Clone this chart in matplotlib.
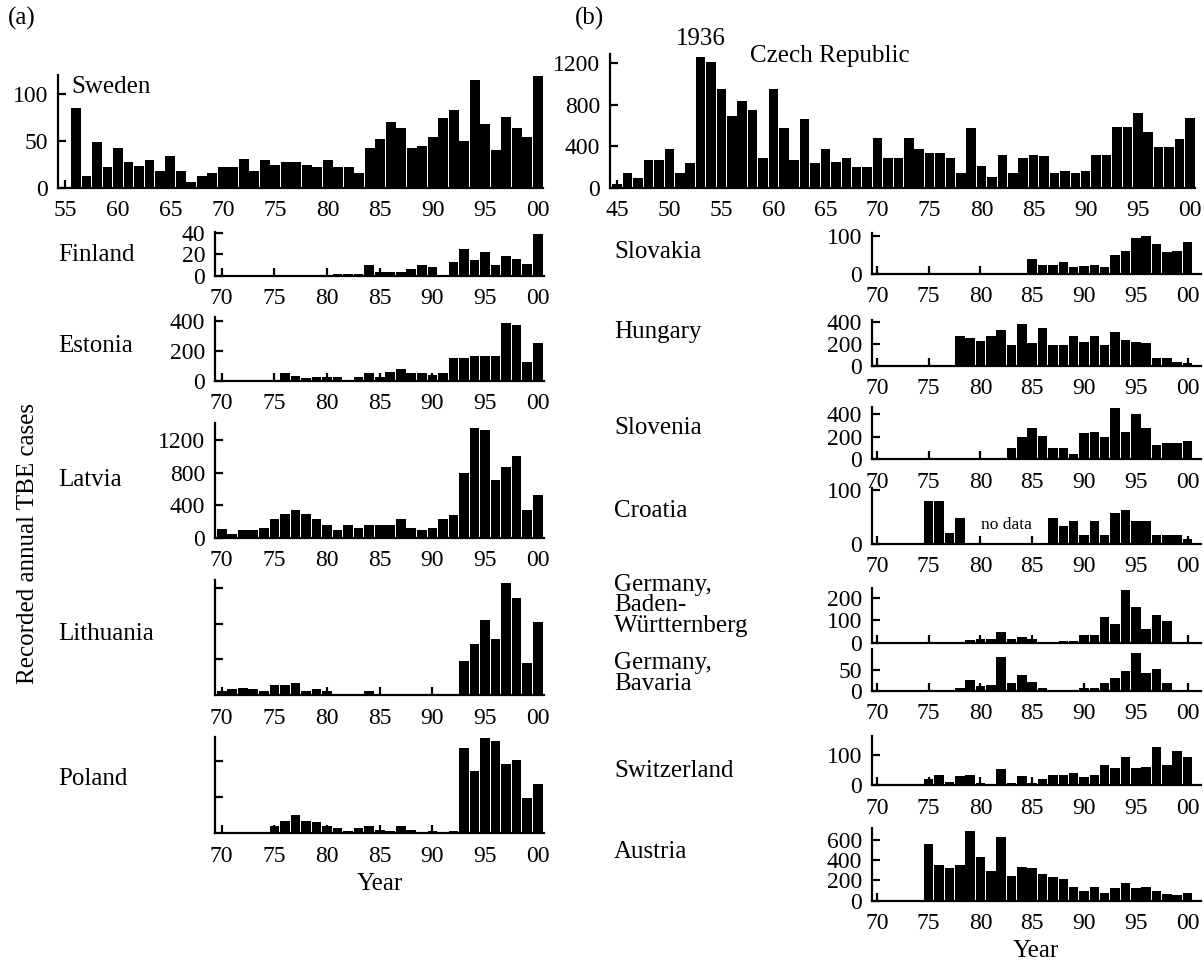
import numpy as np
import matplotlib
matplotlib.use("Agg")
import matplotlib.pyplot as plt

plt.rcParams["font.family"] = ["Liberation Serif", "DejaVu Serif"]

W, H = 1204, 967

# ---- data (recorded annual TBE cases) ----
years_70 = np.arange(1970, 2001)

sweden_years = np.arange(1956, 2001)
sweden = [85, 12, 49, 22, 42, 27, 23, 30, 18, 34, 18, 6, 12, 16, 22,
          22, 31, 18, 30, 24, 27, 27, 24, 22, 30, 22, 22, 16, 42, 52,
          70, 64, 42, 44, 54, 74, 83, 50, 115, 68, 40, 75, 64, 54, 119]

finland = [0] * 11 + [2, 2, 2, 10, 4, 4, 4, 6, 10, 8, 0, 13, 25, 15, 22, 10, 18, 16, 11, 39]
estonia = [0] * 6 + [53, 31, 16, 27, 27, 27, 5, 27, 53, 27, 55, 75, 53, 53, 38, 53,
                     150, 150, 165, 165, 165, 387, 370, 127, 249]
latvia = [110, 53, 102, 102, 122, 232, 297, 346, 297, 232, 163, 102, 163, 122, 163, 163,
          163, 232, 122, 102, 122, 232, 285, 801, 1346, 1322, 712, 867, 1005, 346, 529]
lithuania = [22, 32, 41, 32, 22, 56, 56, 65, 22, 32, 22, 2, 2, 2, 22, 2, 2, 2, 2, 2, 2, 2, 2,
             190, 284, 419, 314, 626, 542, 178, 407]
poland = [0] * 5 + [20, 34, 51, 34, 31, 20, 14, 5, 14, 20, 9, 5, 20, 9, 2, 5, 2, 5,
                    236, 173, 265, 256, 194, 204, 97, 138]

czech_years = np.arange(1945, 2001)
czech = [35, 145, 90, 267, 267, 376, 145, 235, 1264, 1213,
         949, 692, 837, 753, 286, 949, 573, 267, 660, 235,
         376, 248, 283, 196, 196, 483, 283, 283, 483, 376,
         338, 338, 283, 145, 573, 209, 106, 319, 145, 283,
         319, 306, 145, 161, 145, 161, 319, 319, 582, 582,
         717, 534, 389, 389, 467, 675]

slovakia = [0] * 15 + [38, 23, 23, 32, 19, 20, 23, 17, 50, 61, 95, 100, 79, 57, 61, 84]
hungary = [0] * 8 + [273, 255, 224, 273, 324, 188, 376, 203, 339, 188, 188, 273, 218,
                     273, 188, 309, 233, 212, 203, 73, 73, 36, 21]
slovenia = [0] * 13 + [97, 194, 274, 206, 97, 97, 44, 229, 241, 194, 450, 241, 400,
                       274, 126, 141, 141, 159]
croatia = [0] * 5 + [80, 80, 21, 49] + [0] * 8 + [48, 33, 43, 17, 43, 17, 57, 63, 43, 43,
                                                   17, 17, 17, 9]
baden_wuerttemberg = [0] * 9 + [12, 18, 18, 50, 18, 24, 18, 0, 0, 9, 9, 35, 35, 114, 84,
                                235, 159, 60, 125, 99, 0, 0]
bavaria = [0] * 6 + [1, 2, 7, 27, 11, 14, 81, 18, 38, 22, 7, 1, 1, 1, 7, 7, 18, 30, 48,
                     92, 44, 52, 18, 1, 1]
switzerland = [0] * 5 + [19, 33, 11, 30, 33, 6, 3, 52, 6, 30, 6, 19, 33, 33, 41, 28, 33,
                         67, 56, 94, 56, 59, 128, 67, 112, 94]
austria = [0] * 5 + [557, 353, 320, 353, 690, 435, 297, 626, 244, 329, 320, 260, 237,
                     211, 132, 96, 132, 79, 122, 171, 122, 132, 99, 66, 56, 73]

ticks_70 = np.arange(1970, 2001, 5)
ticks_55 = np.arange(1955, 2001, 5)
ticks_45 = np.arange(1945, 2001, 5)

fig = plt.figure(figsize=(W / 100, H / 100), dpi=100)

TICK_FS = 17
LAB_FS = 18


def panel(rect, years, values, xlim, ylim, yticks, ylabels, xticks, xlabels=True):
    x0, y0, x1, y1 = rect
    ax = fig.add_axes([x0 / W, 1 - y1 / H, (x1 - x0) / W, (y1 - y0) / H])
    ax.bar(years, values, width=0.92, color="black", linewidth=0)
    ax.set_xlim(*xlim)
    ax.set_ylim(*ylim)
    for s in ("top", "right"):
        ax.spines[s].set_visible(False)
    for s in ("left", "bottom"):
        ax.spines[s].set_linewidth(1.6)
    ax.set_xticks(xticks)
    if xlabels:
        ax.set_xticklabels([f"{y % 100:02d}" for y in xticks])
    else:
        ax.set_xticklabels([])
    ax.set_yticks(yticks)
    ax.set_yticklabels(ylabels if ylabels is not None else [])
    ax.tick_params(direction="in", length=6, width=1.6, labelsize=TICK_FS)
    ax.tick_params(axis="x", pad=9)
    ax.tick_params(axis="y", pad=7)
    ax.patch.set_alpha(0)
    return ax


def label(x, y, s, **kw):
    fig.text(x / W, 1 - y / H, s, fontsize=kw.pop("fontsize", LAB_FS),
             va=kw.pop("va", "baseline"), **kw)


# ---- left column (a) ----
lx = (1969.36, 2000.6)
panel((58, 75, 543, 187.7), sweden_years, sweden, (1954.3, 2000.5), (0, 120.3),
      [0, 50, 100], ["0", "50", "100"], ticks_55)
panel((215, 231.5, 544, 276), years_70, finland, lx, (0, 41),
      [0, 20, 40], ["0", "20", "40"], ticks_70)
panel((215, 316.7, 544, 380.7), years_70, estonia, lx, (0, 427),
      [0, 200, 400], ["0", "200", "400"], ticks_70)
panel((215, 423, 544, 538), years_70, latvia, lx, (0, 1408),
      [0, 400, 800, 1200], ["0", "400", "800", "1200"], ticks_70)
panel((215, 580, 544, 695), years_70, lithuania, lx, (0, 644),
      [200, 400, 600], None, ticks_70)
panel((215, 737, 544, 833), years_70, poland, lx, (0, 268),
      [100, 200], None, ticks_70)

label(71, 93, "Sweden")
label(58, 261, "Finland")
label(58, 352, "Estonia")
label(58, 486, "Latvia")
label(58, 640, "Lithuania")
label(58, 785, "Poland")
label(380, 890, "Year", ha="center")
label(8, 25, "(a)")
fig.text(28 / W, 1 - 543 / H, "Recorded annual TBE cases", rotation=90,
         fontsize=LAB_FS, ha="center", va="center")

# ---- right column (b) ----
rx = (1969.52, 2001.3)
panel((610, 54, 1195, 187.7), czech_years, czech, (1944.3, 2000.5), (0, 1290),
      [0, 400, 800, 1200], ["0", "400", "800", "1200"], ticks_45)
panel((872, 233.3, 1201, 274), years_70, slovakia, rx, (0, 106),
      [0, 100], ["0", "100"], ticks_70)
panel((872, 320, 1201, 365.7), years_70, hungary, rx, (0, 415),
      [0, 200, 400], ["0", "200", "400"], ticks_70)
panel((872, 407, 1201, 459.3), years_70, slovenia, rx, (0, 460),
      [0, 200, 400], ["0", "200", "400"], ticks_70)
ax_cro = panel((872, 488.3, 1201, 544), years_70, croatia, rx, (0, 103),
               [0, 100], ["0", "100"], ticks_70)
panel((872, 588.3, 1201, 642.7), years_70, baden_wuerttemberg, rx, (0, 243),
      [0, 100, 200], ["0", "100", "200"], ticks_70, xlabels=False)
panel((872, 649, 1201, 690.7), years_70, bavaria, rx, (0, 101),
      [0, 50], ["0", "50"], ticks_70)
panel((872, 736, 1201, 785), years_70, switzerland, rx, (0, 163),
      [0, 100], ["0", "100"], ticks_70)
panel((872, 828, 1201, 900.7), years_70, austria, rx, (0, 718),
      [0, 200, 400, 600], ["0", "200", "400", "600"], ticks_70)

ax_cro.text(1982.5, 35, "no data", fontsize=12.5, ha="center", va="center")

label(575, 25, "(b)")
label(676, 45, "1936")
label(750, 62, "Czech Republic")
label(614, 258, "Slovakia")
label(614, 338, "Hungary")
label(614, 434, "Slovenia")
label(614, 517, "Croatia")
label(614, 591, "Germany,")
label(614, 611, "Baden-")
label(614, 632, "Württernberg")
label(614, 669, "Germany,")
label(614, 690, "Bavaria")
label(614, 777, "Switzerland")
label(614, 858, "Austria")
label(1036, 957, "Year", ha="center")

fig.savefig("out.png", dpi=100)
